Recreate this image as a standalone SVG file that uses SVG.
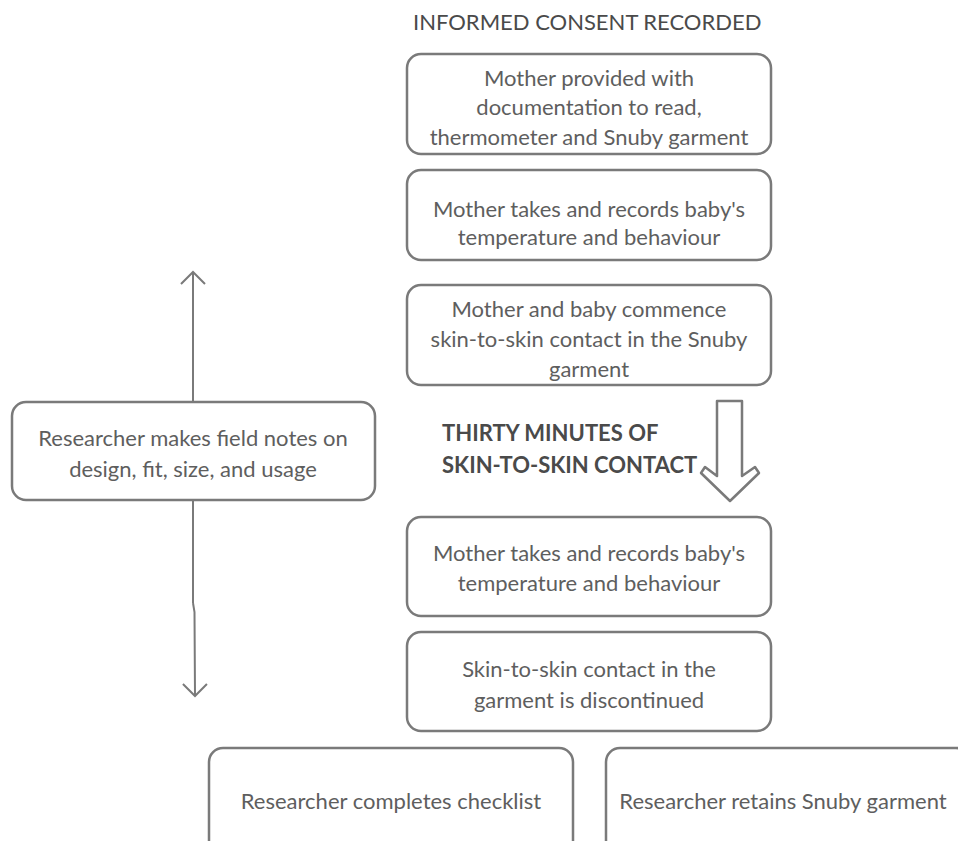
<svg xmlns="http://www.w3.org/2000/svg" width="958" height="841" viewBox="0 0 958 841">
<style>
.box{fill:#fff;stroke:#7a7a7a;stroke-width:2.5}
.t{font-family:Lato,"Open Sans","Liberation Sans",sans-serif;font-size:22px;fill:#5e5e5e;text-anchor:middle;dominant-baseline:central}
.h{font-family:Lato,"Open Sans","Liberation Sans",sans-serif;font-size:22px;fill:#4a4a4a}
.c{fill:none;stroke:#7a7a7a;stroke-width:2}
</style>
<defs>
<marker id="open" viewBox="0 0 20 20" refX="10" refY="10" markerWidth="20" markerHeight="20" markerUnits="userSpaceOnUse" orient="auto-start-reverse" overflow="visible">
<path d="M-2,-2 L10,10 L-2,22" fill="none" stroke="#7a7a7a" stroke-width="2"/>
</marker>
</defs>
<rect width="958" height="841" fill="#fff"/>
<g id="connectors">
<line class="c" x1="193" y1="272" x2="193" y2="603" marker-start="url(#open)"/>
<polyline class="c" points="193,603 194.5,612 195,696" marker-end="url(#open)"/>
</g>
<g id="thirty-minutes-arrow">
<path d="M717,401 L742,401 L742,476 L755,467 L759,473 L730,501 L701,473 L705,467 L717,476 Z" fill="#fff" stroke="#7a7a7a" stroke-width="2.5" stroke-linejoin="round"/>
</g>
<g id="title-consent"><text class="h" x="413" y="30">INFORMED CONSENT RECORDED</text></g>
<g id="title-thirty">
<text class="h" x="442" y="441" font-weight="700" font-size="21.6">THIRTY MINUTES OF</text>
<text class="h" x="442" y="473" font-weight="700" font-size="21.6">SKIN-TO-SKIN CONTACT</text>
</g>
<g id="n1"><rect class="box" x="407" y="54" width="364" height="100" rx="14"/>
<text class="t" x="589" y="77">Mother provided with</text>
<text class="t" x="589" y="106">documentation to read,</text>
<text class="t" x="589" y="136">thermometer and Snuby garment</text></g>
<g id="n2"><rect class="box" x="407" y="170" width="364" height="90" rx="14"/>
<text class="t" x="589" y="208">Mother takes and records baby's</text>
<text class="t" x="589" y="236">temperature and behaviour</text></g>
<g id="n3"><rect class="box" x="407" y="285" width="364" height="100" rx="14"/>
<text class="t" x="589" y="308">Mother and baby commence</text>
<text class="t" x="589" y="338">skin-to-skin contact in the Snuby</text>
<text class="t" x="589" y="368">garment</text></g>
<g id="n4"><rect class="box" x="407" y="517" width="364" height="99" rx="14"/>
<text class="t" x="589" y="552">Mother takes and records baby's</text>
<text class="t" x="589" y="582">temperature and behaviour</text></g>
<g id="n5"><rect class="box" x="407" y="632" width="364" height="99" rx="14"/>
<text class="t" x="589" y="668">Skin-to-skin contact in the</text>
<text class="t" x="589" y="699">garment is discontinued</text></g>
<g id="n-field"><rect class="box" x="12" y="402" width="363" height="98" rx="14"/>
<text class="t" x="193" y="437">Researcher makes field notes on</text>
<text class="t" x="193" y="468">design, fit, size, and usage</text></g>
<g id="n-checklist"><rect class="box" x="209" y="748" width="364" height="110" rx="14"/>
<text class="t" x="391" y="800">Researcher completes checklist</text></g>
<g id="n-retain"><rect class="box" x="606" y="748" width="364" height="110" rx="14"/>
<text class="t" x="783" y="800">Researcher retains Snuby garment</text></g>
</svg>
